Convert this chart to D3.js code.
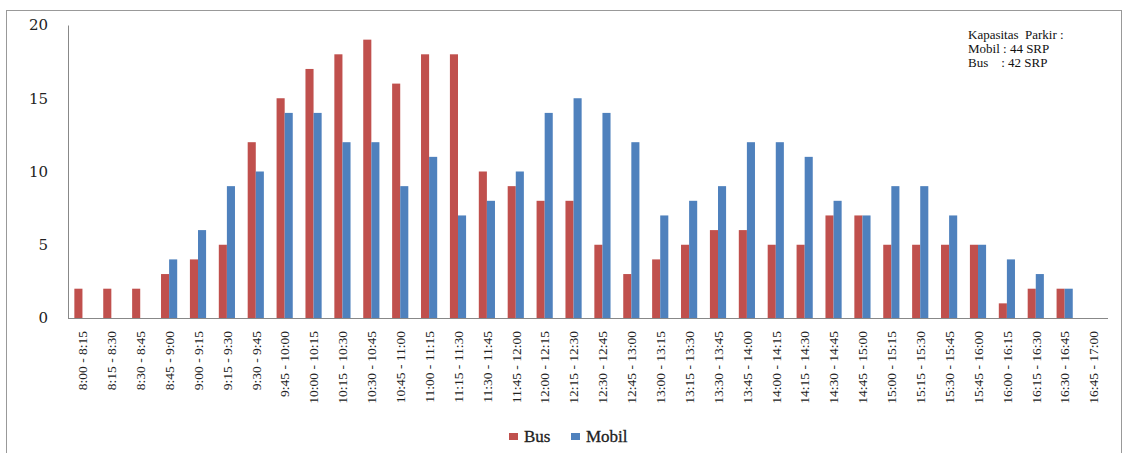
<!DOCTYPE html>
<html>
<meta charset="utf-8">
<head>
<style>
body { margin: 0; background: #fff; }
.tick text { font-family: "Liberation Serif", "DejaVu Serif", serif; }
</style>
</head>
<body>
<script src="https://d3js.org/d3.v7.min.js"></script>
<script>

// time slots
var slots = ["8:00 - 8:15", "8:15 - 8:30", "8:30 - 8:45", "8:45 - 9:00", "9:00 - 9:15", "9:15 - 9:30",
  "9:30 - 9:45", "9:45 - 10:00", "10:00 - 10:15", "10:15 - 10:30", "10:30 - 10:45", "10:45 - 11:00",
  "11:00 - 11:15", "11:15 - 11:30", "11:30 - 11:45", "11:45 - 12:00", "12:00 - 12:15", "12:15 - 12:30",
  "12:30 - 12:45", "12:45 - 13:00", "13:00 - 13:15", "13:15 - 13:30", "13:30 - 13:45", "13:45 - 14:00",
  "14:00 - 14:15", "14:15 - 14:30", "14:30 - 14:45", "14:45 - 15:00", "15:00 - 15:15", "15:15 - 15:30",
  "15:30 - 15:45", "15:45 - 16:00", "16:00 - 16:15", "16:15 - 16:30", "16:30 - 16:45", "16:45 - 17:00"];

var bus   = [2, 2, 2, 3, 4, 5, 12, 15, 17, 18, 19, 16, 18, 18, 10, 9, 8, 8, 5, 3, 4, 5, 6, 6, 5, 5, 7, 7, 5, 5, 5, 5, 1, 2, 2, 0];
var mobil = [0, 0, 0, 4, 6, 9, 10, 14, 14, 12, 12, 9, 11, 7, 8, 10, 14, 15, 14, 12, 7, 8, 9, 12, 12, 11, 8, 7, 9, 9, 7, 5, 4, 3, 2, 0];

var seriesNames = ["Bus", "Mobil"];
var yTicks = [0, 5, 10, 15, 20];
var note = ["Kapasitas  Parkir :", "Mobil : 44 SRP", "Bus    : 42 SRP"];

var colors = ["#C0504D", "#4F81BD"];

var W = 1123, H = 453;
var plotL = 68, plotR = 1108, plotT = 25, plotB = 318;

var svg = d3.select("body").append("svg")
    .attr("width", W)
    .attr("height", H);

// outer frame
svg.append("rect")
    .attr("x", 6.5).attr("y", 10.5)
    .attr("width", 1115).attr("height", 460)
    .style("fill", "none")
    .style("stroke", "#999");

var x = d3.scaleBand()
    .domain(slots)
    .range([plotL, plotR])
    .paddingInner(0.44)
    .paddingOuter(0.22);

var xs = d3.scaleBand()
    .domain(seriesNames)
    .range([0, x.bandwidth()]);

var y = d3.scaleLinear()
    .domain([0, 20])
    .range([plotB, plotT]);

var rows = slots.map(function(s, i) { return {slot: s, vals: [bus[i], mobil[i]]}; });

var groups = svg.append("g").selectAll("g")
    .data(rows).enter()
    .append("g")
    .attr("transform", d => "translate(" + x(d.slot) + ",0)");

groups.selectAll("rect")
    .data(d => d.vals.map((v, k) => ({name: seriesNames[k], v: v, k: k})))
    .enter().append("rect")
    .attr("x", d => xs(d.name))
    .attr("width", xs.bandwidth())
    .attr("y", d => y(d.v))
    .attr("height", d => y(0) - y(d.v))
    .style("fill", d => colors[d.k]);

// y axis
var yAxis = svg.append("g")
    .attr("transform", "translate(" + plotL + ",0)")
    .call(d3.axisLeft(y).tickValues(yTicks).tickSize(0).tickPadding(20));
yAxis.select(".domain").attr("stroke", "#888");
yAxis.selectAll("text")
    .style("font-size", "15px")
    .style("font-family", "'DejaVu Serif', serif")
    .style("fill", "#222");

// x axis
var xAxis = svg.append("g")
    .attr("transform", "translate(0," + plotB + ")")
    .call(d3.axisBottom(x).tickSize(0).tickPadding(0));
xAxis.select(".domain").attr("stroke", "#888").attr("d", "M" + plotL + ",0.5H" + plotR);
xAxis.selectAll("text")
    .attr("transform", "rotate(-90)")
    .attr("x", -13)
    .attr("y", 0)
    .attr("dy", "0.35em")
    .style("text-anchor", "end")
    .style("font-size", "13.5px")
    .style("fill", "#222");

// legend
var legend = svg.append("g");
var legX = [509, 571];
seriesNames.forEach(function(n, k) {
  legend.append("rect")
    .attr("x", legX[k]).attr("y", 433)
    .attr("width", 9).attr("height", 7)
    .style("fill", colors[k]);
  legend.append("text")
    .attr("x", legX[k] + 15).attr("y", 442)
    .style("font-family", "'Liberation Serif', serif")
    .style("font-size", "17px")
    .style("fill", "#222")
    .style("stroke", "#222")
    .style("stroke-width", "0.3px")
    .text(n);
});

// note
svg.append("g").selectAll("text")
    .data(note).enter()
    .append("text")
    .attr("x", 968)
    .attr("y", (d, i) => 39 + i * 14)
    .style("font-family", "'Liberation Serif', serif")
    .style("font-size", "13px")
    .style("white-space", "pre")
    .attr("xml:space", "preserve")
    .style("fill", "#111")
    .text(d => d);

</script>
</body>
</html>
